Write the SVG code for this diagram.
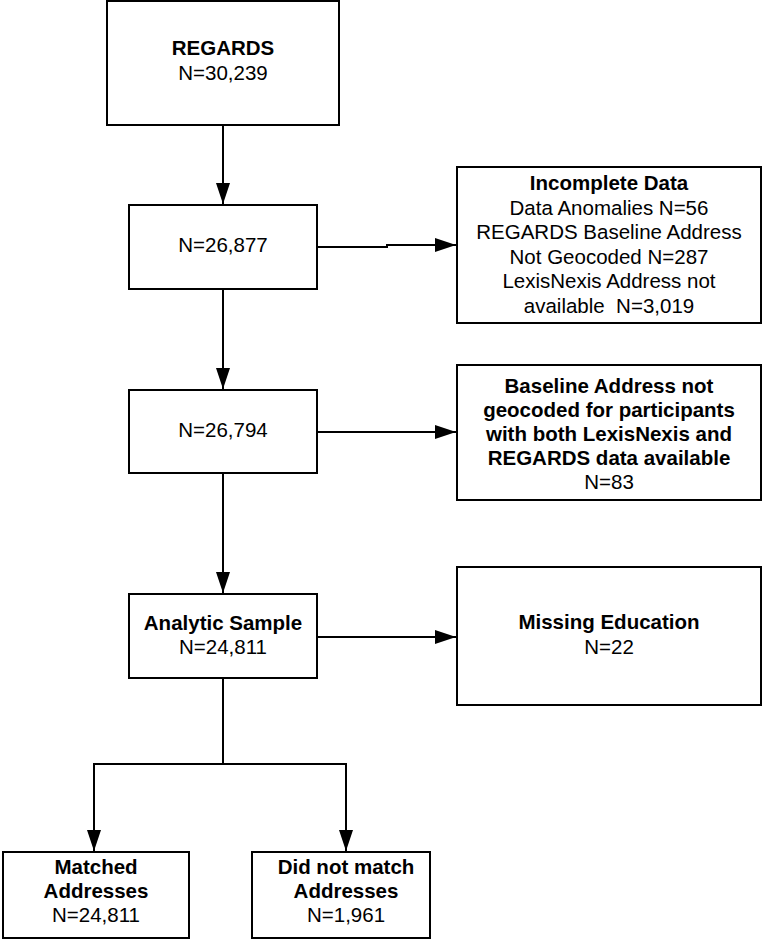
<svg xmlns="http://www.w3.org/2000/svg" width="762" height="939" viewBox="0 0 762 939">
<style>
.box{fill:#fff;stroke:#000;stroke-width:2}
.t{font-family:"Liberation Sans",Arial,sans-serif;font-size:20.5px;fill:#000;text-anchor:middle}
.b{font-weight:bold}
.c{fill:none;stroke:#000;stroke-width:2}
</style>
<defs>
<marker id="ah" markerUnits="userSpaceOnUse" markerWidth="22" markerHeight="14" refX="21" refY="7" orient="auto">
<path d="M0,0 L21,7 L0,14 z" fill="#000"/>
</marker>
</defs>
<rect width="762" height="939" fill="#fff"/>
<g id="connectors">
<path class="c" d="M223,126 V204" marker-end="url(#ah)"/>
<path class="c" d="M317,247 H387 V245 H456" marker-end="url(#ah)"/>
<path class="c" d="M223,289 V389" marker-end="url(#ah)"/>
<path class="c" d="M317,432 H456" marker-end="url(#ah)"/>
<path class="c" d="M223,473 V593" marker-end="url(#ah)"/>
<path class="c" d="M317,637 H456" marker-end="url(#ah)"/>
<path class="c" d="M223,678 V764 H94 V851" marker-end="url(#ah)"/>
<path class="c" d="M223,764 H346 V851" marker-end="url(#ah)"/>
</g>
<g id="n1">
<rect class="box" x="107" y="1" width="232" height="124"/>
<text class="t b" x="223" y="55">REGARDS</text>
<text class="t" x="223" y="80">N=30,239</text>
</g>
<g id="n2">
<rect class="box" x="129" y="205" width="188" height="84"/>
<text class="t" x="223" y="252">N=26,877</text>
</g>
<g id="n3">
<rect class="box" x="457" y="167" width="304" height="156"/>
<text class="t b" x="609" y="190">Incomplete Data</text>
<text class="t" x="609" y="214.5">Data Anomalies N=56</text>
<text class="t" x="609" y="239">REGARDS Baseline Address</text>
<text class="t" x="609" y="263.5">Not Geocoded N=287</text>
<text class="t" x="609" y="288">LexisNexis Address not</text>
<text class="t" x="609" y="312.5" xml:space="preserve">available  N=3,019</text>
</g>
<g id="n4">
<rect class="box" x="129" y="390" width="188" height="83"/>
<text class="t" x="223" y="437">N=26,794</text>
</g>
<g id="n5">
<rect class="box" x="457" y="365" width="304" height="135"/>
<text class="t b" x="609" y="393">Baseline Address not</text>
<text class="t b" x="609" y="417">geocoded for participants</text>
<text class="t b" x="609" y="441">with both LexisNexis and</text>
<text class="t b" x="609" y="465">REGARDS data available</text>
<text class="t" x="609" y="489">N=83</text>
</g>
<g id="n6">
<rect class="box" x="129" y="594" width="188" height="84"/>
<text class="t b" x="223" y="630">Analytic Sample</text>
<text class="t" x="223" y="654">N=24,811</text>
</g>
<g id="n7">
<rect class="box" x="457" y="567" width="304" height="138"/>
<text class="t b" x="609" y="629">Missing Education</text>
<text class="t" x="609" y="654">N=22</text>
</g>
<g id="n8">
<rect class="box" x="3" y="852" width="186" height="86"/>
<text class="t b" x="96" y="874">Matched</text>
<text class="t b" x="96" y="898">Addresses</text>
<text class="t" x="96" y="922">N=24,811</text>
</g>
<g id="n9">
<rect class="box" x="252" y="852" width="178" height="86"/>
<text class="t b" x="346" y="874">Did not match</text>
<text class="t b" x="346" y="898">Addresses</text>
<text class="t" x="346" y="922">N=1,961</text>
</g>
</svg>
